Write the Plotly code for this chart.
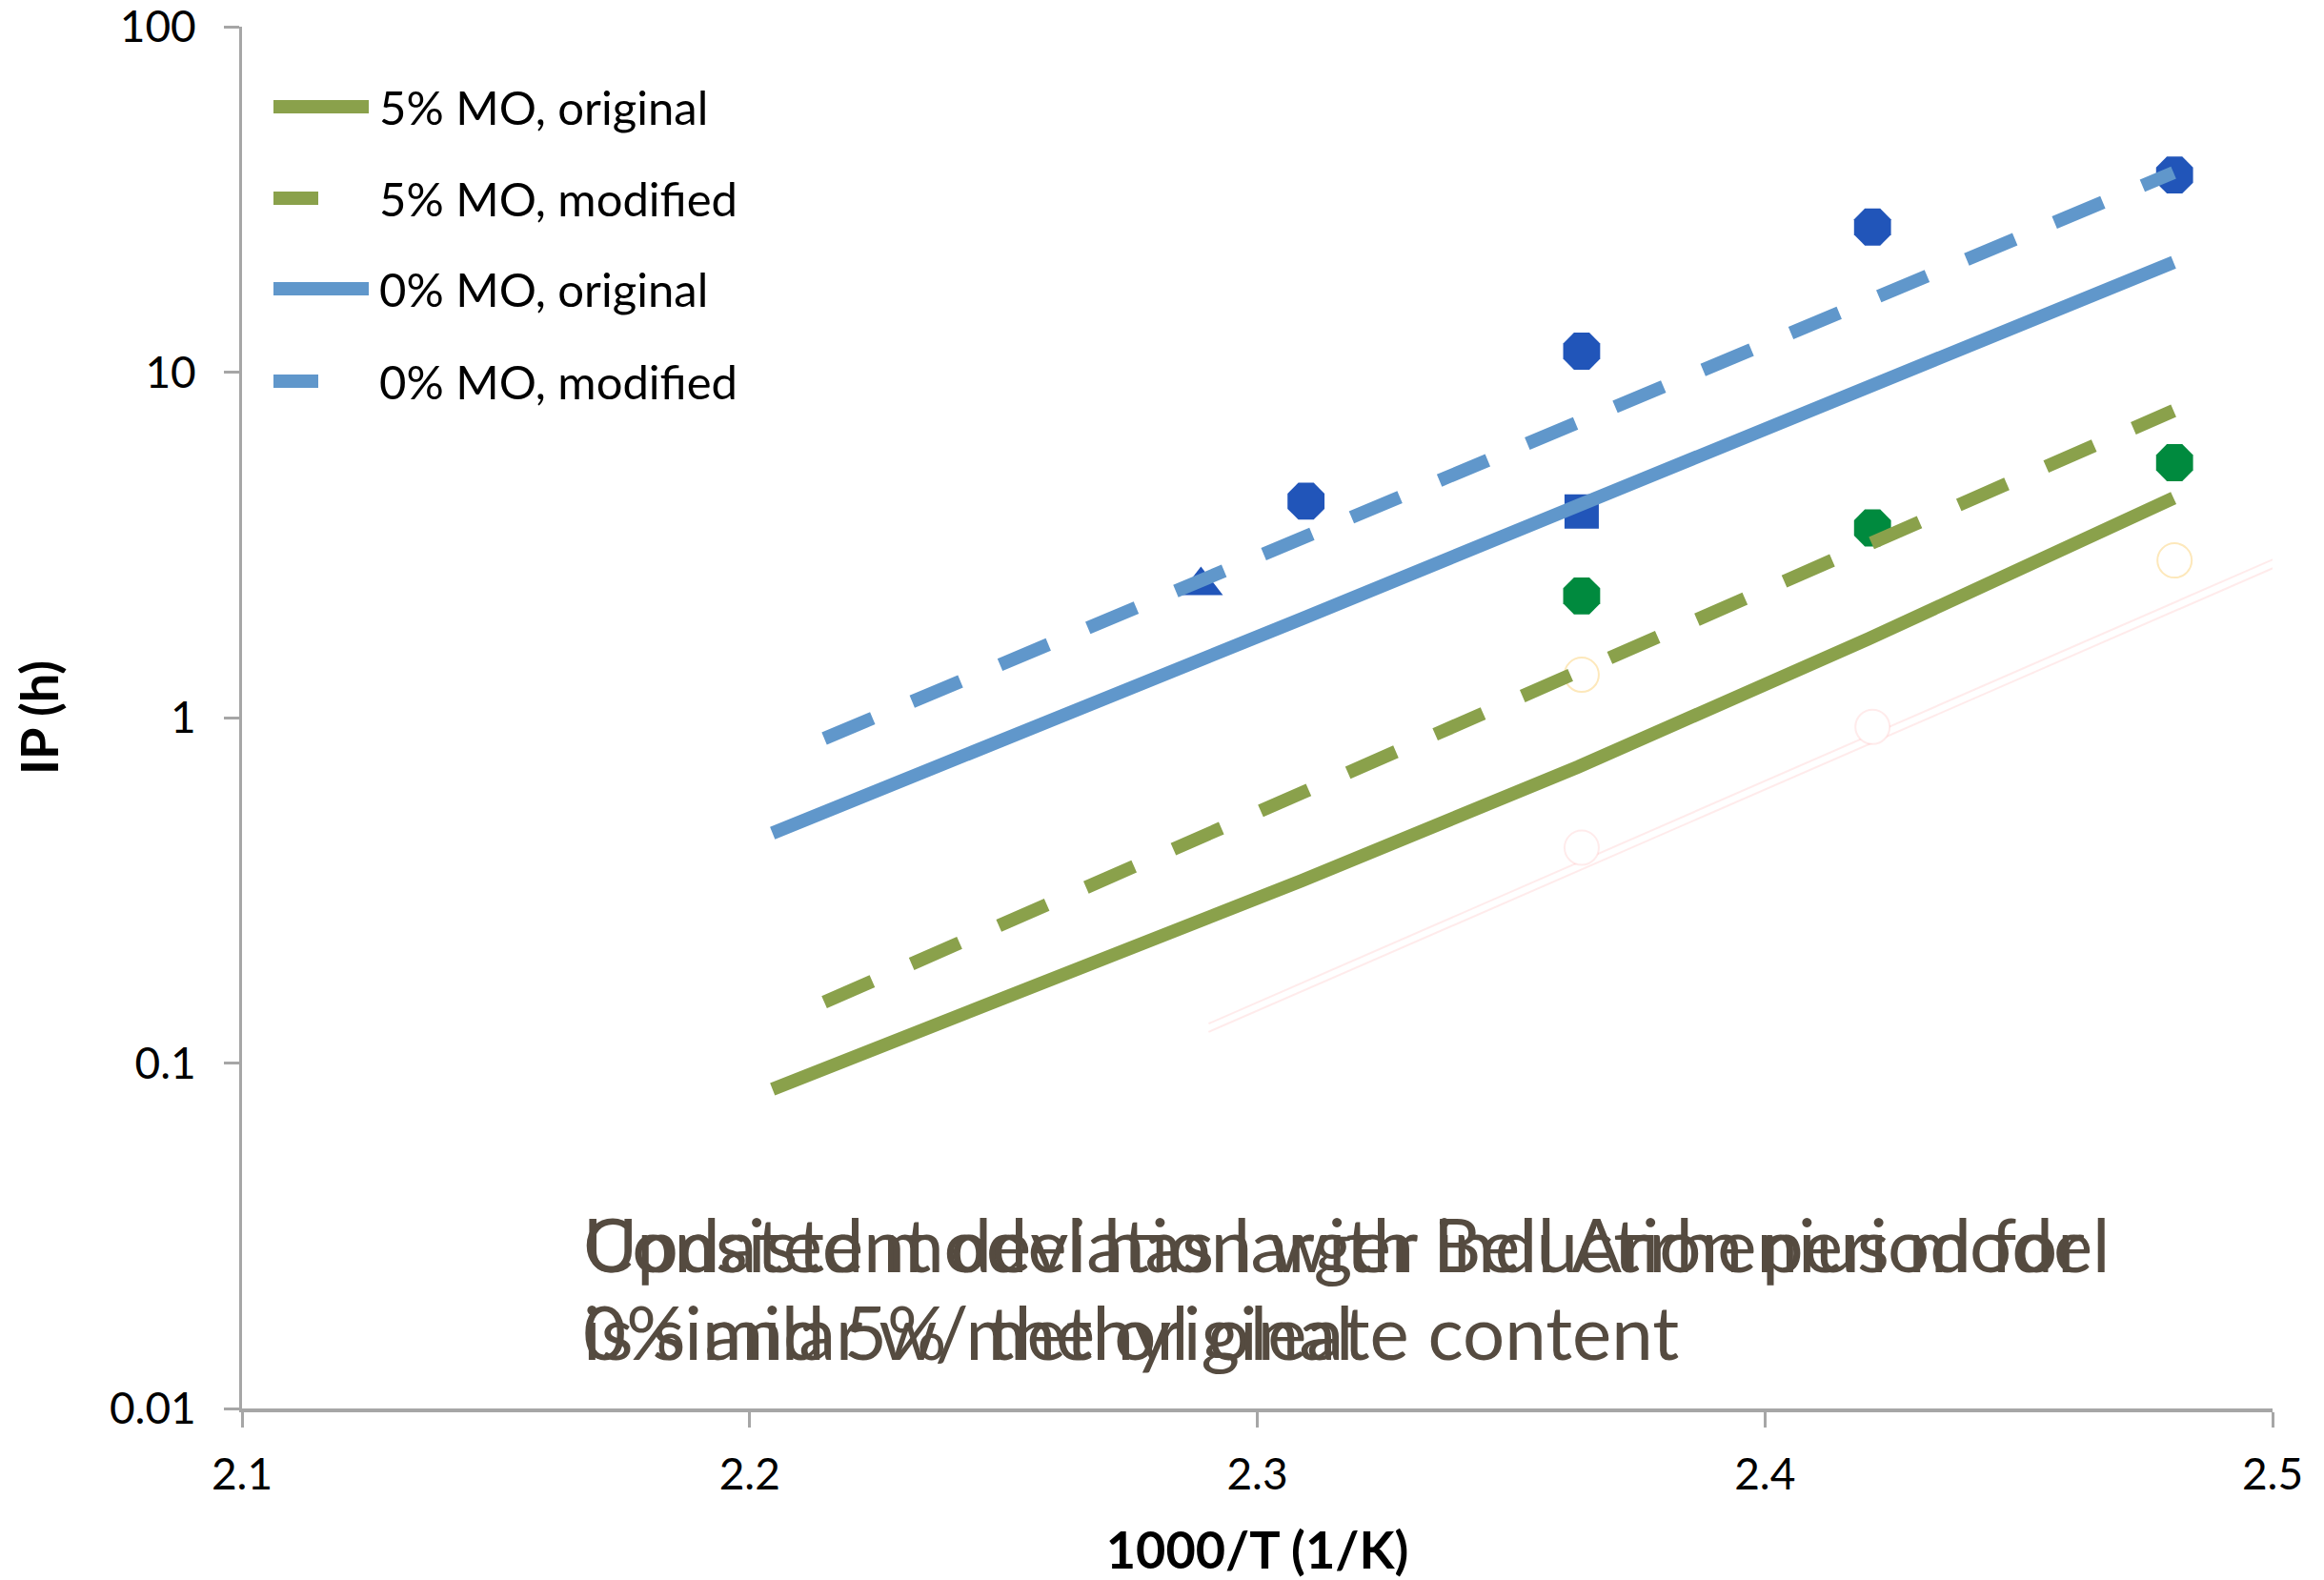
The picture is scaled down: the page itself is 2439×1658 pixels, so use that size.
import plotly.graph_objects as go

# ---------------- data ----------------
# model curves: x = 1000/T (1/K), y = IP (h)
x_orig = [2.2045, 2.2566, 2.3087, 2.3632, 2.4204, 2.4805]
x_mod = [2.2147, 2.2566, 2.3087, 2.3632, 2.4204, 2.4805]
ip_5mo_original = [0.084, 0.167, 0.337, 0.72, 1.69, 4.32]
ip_5mo_modified = [0.150, 0.28, 0.60, 1.36, 3.18, 7.73]
ip_0mo_original = [0.463, 0.94, 1.93, 4.11, 9.07, 20.8]
ip_0mo_modified = [0.87, 1.58, 3.30, 7.16, 16.1, 37.8]

# experimental points
x_exp_0mo = [2.3096, 2.3639, 2.4212, 2.4807]
ip_exp_0mo = [4.23, 11.5, 26.3, 37.2]
x_exp_0mo_tri = [2.2889]
ip_exp_0mo_tri = [2.41]
x_exp_0mo_sq = [2.3639]
ip_exp_0mo_sq = [3.95]
x_exp_5mo = [2.3639, 2.4212, 2.4807]
ip_exp_5mo = [2.25, 3.54, 5.47]

# faint ghost elements
x_ghost_o = [2.3639, 2.4807]
ip_ghost_o = [1.33, 2.85]
x_ghost_r = [2.3639, 2.4212]
ip_ghost_r = [0.42, 0.94]
x_ghost_line = [2.2904, 2.52]
ip_ghost_line1 = [0.130, 3.85]
ip_ghost_line2 = [0.123, 3.63]

legend_labels = ["5% MO, original", "5% MO, modified", "0% MO, original", "0% MO, modified"]
x_ticks = [2.1, 2.2, 2.3, 2.4, 2.5]
x_ticktext = ["2.1", "2.2", "2.3", "2.4", "2.5"]
y_ticks = [0.01, 0.1, 1, 10, 100]
y_ticktext = ["0.01", "0.1", "1", "10", "100"]

note_a = ["Updated model has larger induction period for", "0% and 5% methyl oleate content"]
note_b = ["Consistent deviation with Bell Arrhenius model", "is similar w/ the original"]

# ---------------- style ----------------
GREEN = "#8aa14b"
BLUE = "#6097cb"
DBLUE = "#2155b9"
DGREEN = "#008a3e"
FONT = "Lato, 'Open Sans', sans-serif"
AXIS_GREY = "#a6a6a6"
LW = 14
DASH = "55px,45px"

fig = go.Figure()

# ghost lines / markers (very faint)
for yy in (ip_ghost_line1, ip_ghost_line2):
    fig.add_trace(go.Scatter(x=x_ghost_line, y=yy, mode="lines",
                             line=dict(color="rgba(255,90,90,0.12)", width=2),
                             showlegend=False, hoverinfo="skip"))
fig.add_trace(go.Scatter(x=x_ghost_o, y=ip_ghost_o, mode="markers",
                         marker=dict(symbol="circle", size=36, color="white",
                                     line=dict(color="rgba(250,190,60,0.35)", width=2)),
                         showlegend=False, hoverinfo="skip"))
fig.add_trace(go.Scatter(x=x_ghost_r, y=ip_ghost_r, mode="markers",
                         marker=dict(symbol="circle", size=36, color="white",
                                     line=dict(color="rgba(255,120,120,0.15)", width=2)),
                         showlegend=False, hoverinfo="skip"))

# experimental markers (drawn below the lines)
fig.add_trace(go.Scatter(x=x_exp_0mo, y=ip_exp_0mo, mode="markers",
                         marker=dict(symbol="octagon", size=42, color=DBLUE),
                         showlegend=False))
fig.add_trace(go.Scatter(x=x_exp_0mo_tri, y=ip_exp_0mo_tri, mode="markers",
                         marker=dict(symbol="triangle-up", size=40, color=DBLUE),
                         showlegend=False))
fig.add_trace(go.Scatter(x=x_exp_0mo_sq, y=ip_exp_0mo_sq, mode="markers",
                         marker=dict(symbol="square", size=36, color=DBLUE),
                         showlegend=False))
fig.add_trace(go.Scatter(x=x_exp_5mo, y=ip_exp_5mo, mode="markers",
                         marker=dict(symbol="octagon", size=42, color=DGREEN),
                         showlegend=False))

# model lines
fig.add_trace(go.Scatter(x=x_orig, y=ip_5mo_original, mode="lines", name=legend_labels[0],
                         line=dict(color=GREEN, width=LW), showlegend=False))
fig.add_trace(go.Scatter(x=x_mod, y=ip_5mo_modified, mode="lines", name=legend_labels[1],
                         line=dict(color=GREEN, width=LW, dash=DASH), showlegend=False))
fig.add_trace(go.Scatter(x=x_orig, y=ip_0mo_original, mode="lines", name=legend_labels[2],
                         line=dict(color=BLUE, width=LW), showlegend=False))
fig.add_trace(go.Scatter(x=x_mod, y=ip_0mo_modified, mode="lines", name=legend_labels[3],
                         line=dict(color=BLUE, width=LW, dash=DASH), showlegend=False))

# ---------------- manual legend ----------------
W, H = 2439, 1658
ML, MR, MT, MB = 254, 54, 28, 180
PW, PH = W - ML - MR, H - MT - MB


def px_x(px):
    return (px - ML) / PW


def px_y(py):
    return 1 - (py - MT) / PH


legend_rows = [112, 208, 303, 400]
legend_colors = [GREEN, GREEN, BLUE, BLUE]
legend_dashed = [False, True, False, True]
shapes = []
annotations = []
for lab, row, col, dashed in zip(legend_labels, legend_rows, legend_colors, legend_dashed):
    x1 = 334 if dashed else 387
    shapes.append(dict(type="line", xref="paper", yref="paper",
                       x0=px_x(287), x1=px_x(x1), y0=px_y(row), y1=px_y(row),
                       line=dict(color=col, width=LW)))
    annotations.append(dict(text=lab, xref="paper", yref="paper", x=px_x(396), y=px_y(row),
                            xanchor="left", yanchor="middle", showarrow=False,
                            font=dict(family=FONT, size=49, color="black")))

# overlapping note text (two text boxes on top of each other)
NOTE_COLOR = "#554b40"
for note in (note_a, note_b):
    for line, row in zip(note, [1305, 1397]):
        annotations.append(dict(text=line, xref="paper", yref="paper", x=px_x(610), y=px_y(row),
                                xanchor="left", yanchor="middle", showarrow=False,
                                font=dict(family=FONT, size=78, color=NOTE_COLOR)))

fig.update_layout(
    width=W, height=H, autosize=False,
    margin=dict(l=ML, r=MR, t=MT, b=MB),
    paper_bgcolor="white", plot_bgcolor="white",
    showlegend=False,
    shapes=shapes, annotations=annotations,
    xaxis=dict(range=[2.1, 2.5], tickvals=x_ticks, ticktext=x_ticktext, automargin=False,
               showline=True, linecolor=AXIS_GREY, linewidth=4,
               ticks="outside", ticklen=16, tickwidth=3, tickcolor=AXIS_GREY,
               showgrid=False, zeroline=False, ticklabelstandoff=10,
               ticklabeloverflow="allow",
               tickfont=dict(family=FONT, size=46, color="black"),
               title=dict(text="1000/T (1/K)", standoff=39,
                          font=dict(family=FONT, size=54, color="black", weight="bold"))),
    yaxis=dict(type="log", range=[-2, 2], tickvals=y_ticks, ticktext=y_ticktext, automargin=False,
               showline=True, linecolor=AXIS_GREY, linewidth=3,
               ticks="outside", ticklen=16, tickwidth=3, tickcolor=AXIS_GREY,
               showgrid=False, zeroline=False, ticklabelstandoff=20,
               ticklabeloverflow="allow",
               tickfont=dict(family=FONT, size=46, color="black"),
               title=dict(text="IP (h)", standoff=36,
                          font=dict(family=FONT, size=54, color="black", weight="bold"))),
)

fig.write_html("out.html")
